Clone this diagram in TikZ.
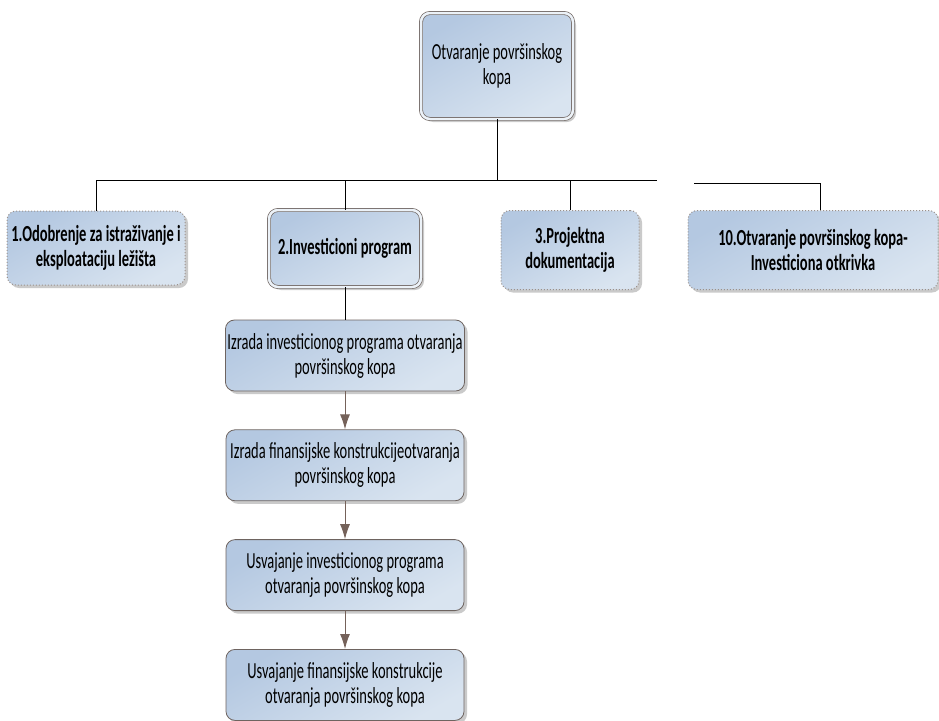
\documentclass[tikz,border=0pt]{standalone}
\usepackage{fontspec}
\setmainfont{Carlito}[FakeStretch=0.63]
\usepackage{xcolor}
\usetikzlibrary{positioning,arrows.meta,shadows}
\definecolor{boxtop}{HTML}{B4C8E1}
\definecolor{boxbot}{HTML}{D9E4F0}
\definecolor{boxline}{HTML}{6E6460}
\definecolor{dotline}{HTML}{9A918C}
\definecolor{arrowc}{HTML}{75625A}

\begin{document}
\begin{tikzpicture}[x=1pt,y=-1pt,node distance=38pt,
	every node/.style={font=\fontsize{23}{25}\selectfont,align=center,inner sep=2pt},
	box/.style={rounded corners=9pt,top color=boxtop,bottom color=boxbot,shading angle=30,
		drop shadow={shadow xshift=3pt,shadow yshift=-3pt,fill=black!35,opacity=.6}},
	plainbox/.style={box,draw=boxline,line width=0.8pt},
	dblbox/.style={box,draw=boxline,double=boxbot!50!white,double distance=2.5pt,line width=0.7pt},
	dotbox/.style={box,draw=dotline,dotted,line width=1pt},
	chainbox/.style={plainbox,minimum width=238pt,minimum height=71pt},
	boldtext/.style={font=\fontsize{23}{25}\selectfont\bfseries},
	conn/.style={draw=black,line width=0.8pt},
	flow/.style={draw=arrowc,line width=1pt,-{Latex[length=15pt,width=10pt]}}]
	\useasboundingbox (0,0) rectangle (939,720);

	% top level
	\node[dblbox,minimum width=152pt,minimum height=106pt] (top) at (497,66) {Otvaranje površinskog\\kopa};

	% second level
	\node[dotbox,boldtext,minimum width=178pt,minimum height=74pt] (odob) at (96,248) {1.Odobrenje za istraživanje i\\eksploataciju ležišta};
	\node[dblbox,boldtext,minimum width=152pt,minimum height=77pt] (inv) at (345,248.5) {2.Investicioni program};
	\node[dotbox,boldtext,minimum width=138pt,minimum height=79pt] (proj) at (570,250) {3.Projektna\\dokumentacija};
	\node[dotbox,boldtext,minimum width=250pt,minimum height=79pt] (otkr) at (813,250) {10.Otvaranje površinskog kopa-\\Investiciona otkrivka};

	% investicioni program steps
	\node[chainbox] (izr1) at (345,355.5) {Izrada investicionog programa otvaranja\\površinskog kopa};
	\node[chainbox] (izr2) [below=of izr1] {Izrada finansijske konstrukcijeotvaranja\\površinskog kopa};
	\node[chainbox] (usv1) [below=of izr2] {Usvajanje investicionog programa\\otvaranja površinskog kopa};
	\node[chainbox] (usv2) [below=of usv1] {Usvajanje finansijske konstrukcije\\otvaranja površinskog kopa};

	\coordinate (barR) at (657,180);
	\coordinate (barX) at (694,183);
	\coordinate (barC) at (820,183);

	\draw[conn] (top.south) -- (top.south |- barR)
		(odob.north |- barR) -- (barR)
		(odob.north) -- (odob.north |- barR)
		(inv.north) -- (inv.north |- barR)
		(proj.north) -- (proj.north |- barR)
		(barX) -- (barC) -- (barC |- otkr.north)
		(inv.south) -- (izr1.north);

	\draw[flow] (izr1) -- (izr2);
	\draw[flow] (izr2) -- (usv1);
	\draw[flow] (usv1) -- (usv2);
\end{tikzpicture}
\end{document}
